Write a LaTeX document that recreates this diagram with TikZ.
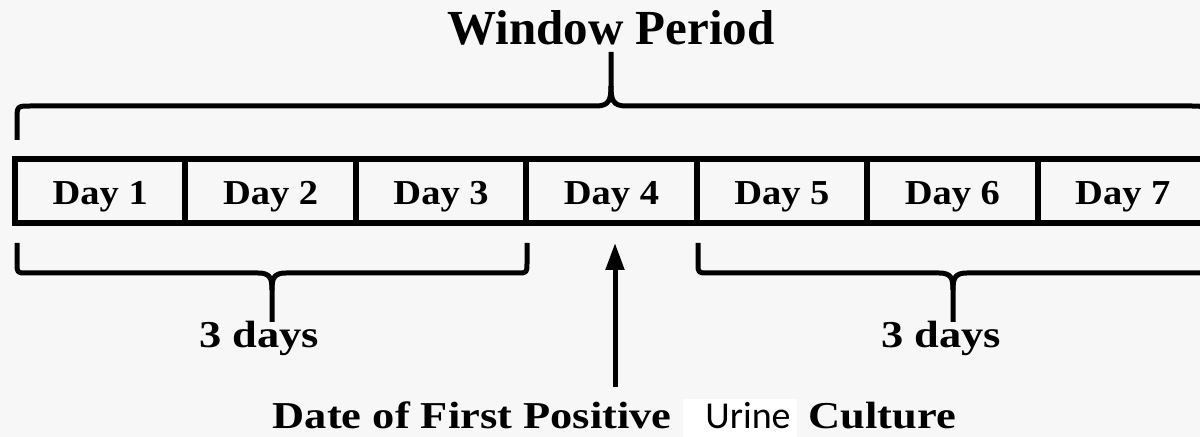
\documentclass[tikz,border=0pt]{standalone}
\usepackage{fontspec}
\setmainfont{Liberation Serif}
\newfontfamily\urinefont{Carlito}
\newfontfamily\daybf{Liberation Serif}[FakeStretch=1.1]
\newfontfamily\widebf{Liberation Serif}[FakeStretch=1.17]
\usetikzlibrary{arrows.meta}
\usetikzlibrary{positioning}
\definecolor{bgpaper}{HTML}{F7F7F7}

\begin{document}
\begin{tikzpicture}[x=0.5pt,y=-0.5pt,
    daybox/.style={draw,line width=3pt,inner sep=0pt,minimum width=85.2pt,minimum height=32pt,
        text height=14pt,text depth=0pt,font=\daybf\bfseries\fontsize{17.5pt}{20pt}\selectfont},
    bigtext/.style={anchor=base,inner sep=0pt,font=\widebf\bfseries\fontsize{19pt}{22pt}\selectfont},
    brace/.style={line width=2.5pt,line join=round}]
    \fill[bgpaper] (0,0) rectangle (1200,437);
    \clip (0,0) rectangle (1200,437);

    \node[anchor=base,inner sep=0pt,font=\bfseries\fontsize{24.5pt}{28pt}\selectfont] (title) at (611,45) {Window Period};

    % top brace
    \draw[brace] (17,140) -- (17,120) .. controls (17,106) .. (31,106) -- (596,106)
        .. controls (609,106) and (611,100) .. (611,86) -- (611,52);
    \draw[brace] (611,86) .. controls (611,100) and (613,106) .. (626,106) -- (1191,106)
        .. controls (1205,106) .. (1205,120) -- (1205,140);

    % the seven days
    \foreach \i in {1,...,7} {
        \node[daybox] (d\i) at ({15+170.43*(\i-0.5)},191) {Day \i};
    }

    % bottom braces
    \foreach \xa/\xm/\xb in {17/272/527, 698/953/1208} {
        \draw[brace] (\xa,243) -- (\xa,263) .. controls (\xa,273) .. (\xa+10,273) -- (\xm-14,273)
            .. controls (\xm-2,273) and (\xm,278) .. (\xm,290) -- (\xm,322);
        \draw[brace] (\xm,290) .. controls (\xm,278) and (\xm+2,273) .. (\xm+14,273) -- (\xb-10,273)
            .. controls (\xb,273) .. (\xb,263) -- (\xb,243);
    }
    \node[bigtext] (firstspan) at (259,348) {3 days};
    \node[bigtext] (lastspan) at (941,348) {3 days};

    \coordinate (foot) at (615,387);
    \coordinate (tip) at (615,243);
    \draw[line width=2.5pt,-{Triangle[length=13.5pt,width=9pt]}] (foot) -- (tip);

    \node[bigtext,anchor=base east] (datetext) at (672,429) {Date of First Positive};
    \node[fill=white,inner sep=0pt,minimum width=57pt,minimum height=19pt] (urinebox) at (740,418) {};
    \node[anchor=base west,inner sep=0pt,font=\urinefont\fontsize{19pt}{22pt}\selectfont] (urine) at (705,429) {Urine};
    \node[bigtext,anchor=base west] (culture) at (808,429) {Culture};
\end{tikzpicture}
\end{document}
